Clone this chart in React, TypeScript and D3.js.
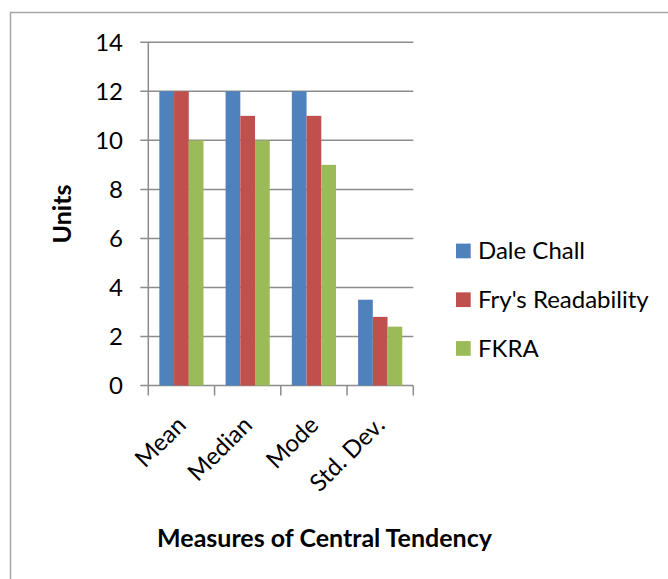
import React, { useEffect, useRef } from "react";
import * as d3 from "d3";

// chart size
const WIDTH = 668;
const HEIGHT = 579;

// data
const categories: string[] = ["Mean", "Median", "Mode", "Std. Dev."];
const seriesNames: string[] = ["Dale Chall", "Fry's Readability", "FKRA"];
const daleChall: number[] = [12, 12, 12, 3.5];
const frysReadability: number[] = [12, 11, 11, 2.8];
const fkra: number[] = [10, 10, 9, 2.4];
const yTicks: number[] = [0, 2, 4, 6, 8, 10, 12, 14];

const COLORS = ["#4F81BD", "#C0504D", "#9BBB59"];
const FONT = "Lato, 'Open Sans', sans-serif";

const App: React.FC = () => {
  const ref = useRef<SVGSVGElement | null>(null);

  useEffect(() => {
    if (!ref.current) return;
    const svg = d3.select(ref.current);
    svg.selectAll("*").remove();

    const values = [daleChall, frysReadability, fkra];

    // plot area
    const left = 148.3;
    const right = 413.3;
    const top = 42.3;
    const bottom = 385.5;

    const x = d3.scaleBand<string>().domain(categories).range([left, right]).padding(0);
    const bw = x.bandwidth();
    const barW = bw / 4.5; // gap width 150%
    const xs = d3
      .scaleBand<string>()
      .domain(seriesNames)
      .range([barW * 0.75, barW * 3.75])
      .padding(0);
    const y = d3.scaleLinear().domain([0, 14]).range([bottom, top]);

    // outer border
    svg
      .append("path")
      .attr("d", `M10.5,${HEIGHT} V12.5 H${WIDTH}`)
      .attr("fill", "none")
      .attr("stroke", "#a6a6a6")
      .attr("stroke-width", 1.5);

    // gridlines
    svg
      .selectAll(".grid")
      .data(yTicks)
      .enter()
      .append("line")
      .attr("x1", left - 8)
      .attr("x2", right)
      .attr("y1", (d) => y(d))
      .attr("y2", (d) => y(d))
      .attr("stroke", "#8c8c8c")
      .attr("stroke-width", 1.5);

    // bars
    values.forEach((vals, si) => {
      svg
        .selectAll(`.bar-${si}`)
        .data(vals)
        .enter()
        .append("rect")
        .attr("x", (_, i) => (x(categories[i]) || 0) + (xs(seriesNames[si]) || 0))
        .attr("y", (d) => y(d))
        .attr("width", xs.bandwidth())
        .attr("height", (d) => bottom - y(d))
        .attr("fill", COLORS[si]);
    });

    // y axis line
    svg
      .append("line")
      .attr("x1", left)
      .attr("x2", left)
      .attr("y1", top)
      .attr("y2", bottom)
      .attr("stroke", "#8c8c8c")
      .attr("stroke-width", 1.5);

    // x axis ticks
    const xTickPos = categories.map((c) => x(c) || 0).concat([right]);
    svg
      .selectAll(".xtick")
      .data(xTickPos)
      .enter()
      .append("line")
      .attr("x1", (d) => d)
      .attr("x2", (d) => d)
      .attr("y1", bottom)
      .attr("y2", bottom + 10)
      .attr("stroke", "#8c8c8c")
      .attr("stroke-width", 1.5);

    // y tick labels
    svg
      .selectAll(".ylabel")
      .data(yTicks)
      .enter()
      .append("text")
      .attr("x", 123)
      .attr("y", (d) => y(d))
      .attr("dy", "0.35em")
      .attr("text-anchor", "end")
      .attr("font-family", FONT)
      .attr("font-size", 24)
      .attr("fill", "#000")
      .text((d) => d);

    // category labels, rotated
    svg
      .selectAll(".xlabel")
      .data(categories)
      .enter()
      .append("text")
      .attr("transform", (d) => `translate(${(x(d) || 0) + bw / 2 + 6},${bottom + 41}) rotate(-45)`)
      .attr("text-anchor", "end")
      .attr("font-family", FONT)
      .attr("font-size", 24)
      .attr("fill", "#000")
      .text((d) => d);

    // axis titles
    svg
      .append("text")
      .attr("transform", `translate(71,214) rotate(-90)`)
      .attr("text-anchor", "middle")
      .attr("font-family", FONT)
      .attr("font-weight", "bold")
      .attr("font-size", 25)
      .text("Units");

    svg
      .append("text")
      .attr("x", 324.5)
      .attr("y", 547)
      .attr("text-anchor", "middle")
      .attr("font-family", FONT)
      .attr("font-weight", "bold")
      .attr("font-size", 25)
      .text("Measures of Central Tendency");

    // legend
    const legendY = d3.scalePoint<string>().domain(seriesNames).range([251, 348.5]);
    const legend = svg
      .selectAll(".legend")
      .data(seriesNames)
      .enter()
      .append("g")
      .attr("transform", (d) => `translate(456,${legendY(d)})`);
    legend
      .append("rect")
      .attr("x", 0)
      .attr("y", -7.4)
      .attr("width", 14.7)
      .attr("height", 14.7)
      .attr("fill", (_, i) => COLORS[i]);
    legend
      .append("text")
      .attr("x", 22)
      .attr("y", 0)
      .attr("dy", "0.35em")
      .attr("font-family", FONT)
      .attr("font-size", 24)
      .attr("fill", "#000")
      .text((d) => d);
  }, []);

  return (
    <svg
      ref={ref}
      width={WIDTH}
      height={HEIGHT}
      style={{ position: "absolute", left: 0, top: 0, background: "#fff" }}
    />
  );
};

export default App;
